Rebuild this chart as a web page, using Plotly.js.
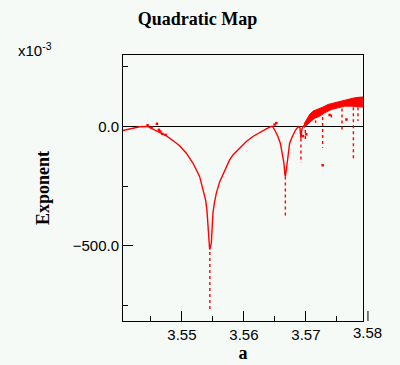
<!DOCTYPE html>
<html>
<head>
<meta charset="utf-8">
<script src="https://cdn.plot.ly/plotly-3.0.1.min.js"></script>
<style>
  html, body { margin: 0; padding: 0; background: #f6faf6; }
  #chart { width: 400px; height: 365px; }
</style>
</head>
<body>
<div id="chart"></div>
<script>
// ---- Data (exponent in units of 1e-3) ----
const curveA = [3.54048, 3.54156, 3.54237, 3.54318, 3.54447, 3.54532, 3.54640, 3.54748, 3.54855, 3.54963,
  3.55071, 3.55177, 3.55285, 3.55339, 3.55382, 3.55403, 3.55419, 3.55435, 3.55447,
  3.55474, 3.55479, 3.55490, 3.55500, 3.55523, 3.55555, 3.55608, 3.55661, 3.55716, 3.55769,
  3.55823, 3.55931, 3.56039, 3.56145, 3.56253, 3.56361, 3.56442, 3.56458, 3.56495, 3.56548,
  3.56587, 3.56619, 3.56645, 3.56661, 3.56668, 3.56684, 3.56710, 3.56737, 3.56781, 3.56834,
  3.56882, 3.56903, 3.56919, 3.56935, 3.56968];
const curveExp = [-17, -10, -5, -1, 0, -11, -25, -39, -59, -81,
  -112, -153, -209, -260, -307, -349, -419, -475, -515,
  -489, -461, -405, -363, -321, -279, -232, -202, -168, -140,
  -119, -91, -63, -42, -25, -10, 0, 1, -14, -42,
  -70, -112, -153, -202, -209, -181, -112, -70, -42, -14,
  0, -5, -50, -10, 5];

const bandUpperA = [3.56968, 3.57006, 3.57060, 3.57113, 3.57194, 3.57274, 3.57355, 3.57463, 3.57571, 3.57677, 3.57785, 3.57894, 3.57919];
const bandUpperExp = [10, 29, 50, 64, 71, 81, 92, 99, 109, 116, 120, 123, 123];
const bandLowerA = [3.56968, 3.57032, 3.57087, 3.57140, 3.57221, 3.57302, 3.57410, 3.57516, 3.57624, 3.57732, 3.57839, 3.57919];
const bandLowerExp = [-5, 8, 23, 34, 43, 57, 71, 78, 85, 85, 81, 81];

// periodic-window spikes: position, top, bottom
const spikeA = [3.55450, 3.56668, 3.56919, 3.56990, 3.57156, 3.57269, 3.57410, 3.57581, 3.57765, 3.57839];
const spikeTop = [-500, -209, -50, -15, 25, 40, 50, 75, 80, 80];
const spikeBottom = [-765, -382, -152, -54, 15, -89, 35, -17, -142, 23];

// loose scattered points
const dotsA = [3.54447, 3.54511, 3.54597, 3.54629, 3.54652, 3.54684, 3.54737, 3.56495, 3.56523, 3.56952, 3.57006, 3.57269, 3.57382, 3.57652];
const dotsExp = [5, -5, 11, -14, -21, -31, -35, 8, 14, -40, -33, -162, 48, 29];

const xTickVals = [3.55, 3.56, 3.57];
const xTickText = ['3.55', '3.56', '3.57'];
const extraXTick = 3.58;
const xRange = [3.5405, 3.5792];
const yRange = [-814, 299];

// ---- build traces ----
const RED = '#ff0000';
const spikeX = [], spikeY = [];
spikeA.forEach((a, i) => { spikeX.push(a, a, null); spikeY.push(spikeTop[i], spikeBottom[i], null); });

const traces = [
  { x: bandLowerA, y: bandLowerExp, mode: 'lines', line: { color: RED, width: 1 }, hoverinfo: 'skip' },
  { x: bandUpperA, y: bandUpperExp, mode: 'lines', line: { color: RED, width: 1 }, fill: 'tonexty', fillcolor: RED, hoverinfo: 'skip' },
  { x: curveA, y: curveExp, mode: 'lines', line: { color: RED, width: 1.4 } },
  { x: spikeX, y: spikeY, mode: 'lines', line: { color: RED, width: 1.4, dash: 'dot' }, connectgaps: false },
  { x: dotsA, y: dotsExp, mode: 'markers', marker: { color: RED, size: 2.5, symbol: 'square' } }
];

const tickFont = { family: 'Liberation Sans, Arial, sans-serif', size: 15, color: '#000' };
const serifFont = { family: 'Liberation Serif, Times New Roman, serif', size: 18, color: '#000', weight: 'bold' };
const px3_58 = (extraXTick - xRange[0]) / (xRange[1] - xRange[0]);

const layout = {
  width: 400, height: 365,
  paper_bgcolor: '#f6faf6', plot_bgcolor: '#f6faf6',
  margin: { l: 123, r: 37, t: 55, b: 44, pad: 0 },
  showlegend: false,
  title: { text: 'Quadratic Map', font: serifFont, xref: 'container', yref: 'container', x: 0.494, y: 0.95, xanchor: 'center', yanchor: 'middle' },
  xaxis: {
    range: xRange, showgrid: false, zeroline: false,
    showline: true, mirror: true, linecolor: '#000', linewidth: 1,
    ticks: 'inside', ticklen: 10, tickwidth: 1, tickcolor: '#000',
    tickvals: xTickVals, ticktext: xTickText, tickfont: tickFont,
    minor: { ticks: 'inside', ticklen: 5, tickwidth: 1, tickcolor: '#000', dtick: 0.005, tick0: 3.545, showgrid: false },
    title: { text: 'a', font: serifFont, standoff: 0 }
  },
  yaxis: {
    range: yRange, showgrid: false,
    zeroline: true, zerolinecolor: '#000', zerolinewidth: 1,
    showline: true, mirror: true, linecolor: '#000', linewidth: 1,
    ticks: 'inside', ticklen: 10, tickwidth: 1, tickcolor: '#000',
    tick0: 0, dtick: 500, tickformat: '.1f', tickfont: tickFont,
    minor: { ticks: 'inside', ticklen: 5, tickwidth: 1, tickcolor: '#000', dtick: 250, tick0: 0, showgrid: false },
    title: { text: 'Exponent', font: serifFont, standoff: 18 }
  },
  shapes: [
    { type: 'line', xref: 'paper', yref: 'paper', x0: px3_58, x1: px3_58, y0: 0, y1: 10 / 265.7, line: { color: '#000', width: 1 } }
  ],
  annotations: [
    { text: '3.58', xref: 'paper', yref: 'paper', x: px3_58, y: 0, xanchor: 'center', yanchor: 'top', yshift: -1, showarrow: false, font: tickFont },
    { text: 'x10<sup>-3</sup>', xref: 'paper', yref: 'paper', x: -0.446, y: 1.02, xanchor: 'left', yanchor: 'middle', showarrow: false, font: tickFont }
  ]
};

Plotly.newPlot('chart', traces, layout, { displayModeBar: false, staticPlot: true });
</script>
</body>
</html>
